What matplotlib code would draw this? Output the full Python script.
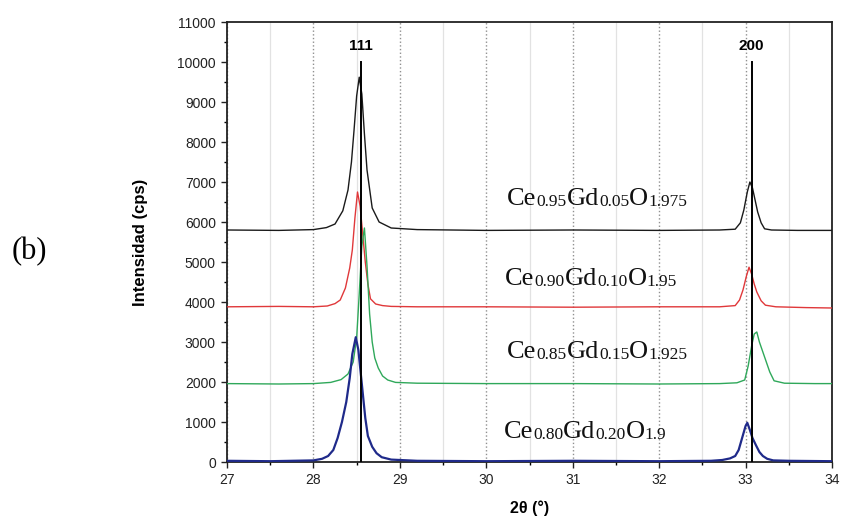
import matplotlib
matplotlib.use("Agg")
import matplotlib.pyplot as plt
from matplotlib.ticker import MultipleLocator
from matplotlib.transforms import offset_copy

# ---- diffraction patterns (2-theta in degrees, intensity in cps) ----
tt_005 = [27.0, 27.6, 28.0, 28.15, 28.25, 28.34, 28.40, 28.44, 28.47, 28.50, 28.53,
          28.56, 28.59, 28.62, 28.68, 28.76, 28.9, 29.2, 30.0, 31.0, 32.0, 32.7,
          32.88, 32.94, 32.98, 33.02, 33.05, 33.08, 33.11, 33.14, 33.18, 33.22,
          33.3, 33.6, 34.0]
int_005 = [5800, 5790, 5810, 5860, 5950, 6280, 6800, 7500, 8300, 9150, 9620,
           9200, 8200, 7300, 6350, 6000, 5850, 5810, 5790, 5800, 5790, 5800,
           5820, 5980, 6300, 6750, 7000, 6850, 6550, 6250, 5980, 5830,
           5800, 5790, 5790]

tt_010 = [27.0, 27.6, 28.0, 28.16, 28.25, 28.31, 28.37, 28.42, 28.45, 28.48, 28.51,
          28.54, 28.57, 28.60, 28.63, 28.66, 28.72, 28.8, 28.9, 29.2, 30.0, 31.0,
          32.0, 32.7, 32.88, 32.93, 32.97, 33.01, 33.04, 33.07, 33.10, 33.13,
          33.18, 33.23, 33.35, 33.7, 34.0]
int_010 = [3880, 3890, 3880, 3900, 3960, 4050, 4350, 4850, 5300, 6100, 6750,
           6400, 5700, 5000, 4450, 4080, 3950, 3910, 3890, 3880, 3880, 3870,
           3880, 3880, 3910, 4050, 4300, 4650, 4870, 4700, 4450, 4250,
           4030, 3920, 3880, 3860, 3850]

tt_015 = [27.0, 27.6, 28.0, 28.2, 28.32, 28.40, 28.46, 28.50, 28.53, 28.56, 28.59,
          28.62, 28.65, 28.68, 28.71, 28.75, 28.8, 28.86, 28.95, 29.2, 30.0, 31.0,
          32.0, 32.7, 32.9, 32.99, 33.03, 33.07, 33.10, 33.13, 33.16, 33.2,
          33.24, 33.28, 33.33, 33.45, 33.8, 34.0]
int_015 = [1960, 1950, 1960, 1990, 2060, 2200, 2500, 3100, 4200, 5400, 5850,
           4900, 3700, 3000, 2600, 2350, 2150, 2050, 1990, 1970, 1960, 1960,
           1950, 1960, 1980, 2050, 2400, 2900, 3200, 3250, 3000, 2750,
           2500, 2250, 2030, 1970, 1960, 1960]

tt_020 = [27.0, 27.5, 28.0, 28.1, 28.17, 28.23, 28.28, 28.33, 28.38, 28.42, 28.45,
          28.49, 28.52, 28.56, 28.60, 28.63, 28.68, 28.73, 28.79, 28.9, 29.2, 30.0,
          31.0, 32.0, 32.6, 32.73, 32.82, 32.88, 32.92, 32.96, 33.0, 33.02, 33.05,
          33.08, 33.12, 33.16, 33.2, 33.25, 33.32, 33.5, 34.0]
int_020 = [30, 20, 40, 80, 150, 300, 600, 1000, 1500, 2100, 2700,
           3120, 2800, 1950, 1100, 650, 380, 220, 120, 60, 30, 20,
           30, 20, 30, 50, 90, 150, 300, 600, 900, 980, 800,
           600, 420, 250, 150, 80, 40, 30, 20]

# reflections of the fluorite lattice
ref_positions = [28.55, 33.07]
ref_labels = ["111", "200"]
ref_top = 10000

# composition labels: (text, is_element) pieces plus anchor (2-theta, cps)
labels = [
    ([("Ce", True), ("0.95", False), ("Gd", True), ("0.05", False), ("O", True), ("1.975", False)], 30.24, 6425),
    ([("Ce", True), ("0.90", False), ("Gd", True), ("0.10", False), ("O", True), ("1.95", False)], 30.22, 4425),
    ([("Ce", True), ("0.85", False), ("Gd", True), ("0.15", False), ("O", True), ("1.925", False)], 30.24, 2600),
    ([("Ce", True), ("0.80", False), ("Gd", True), ("0.20", False), ("O", True), ("1.9", False)], 30.20, 600),
]

plt.rcParams["font.family"] = ["Liberation Sans", "DejaVu Sans"]

fig = plt.figure(figsize=(8.46, 5.27), dpi=100)
ax = fig.add_axes([227 / 846, 1 - 462 / 527, 605 / 846, 440 / 527])

ax.plot(tt_005, int_005, color="#1a1a1a", lw=1.0, zorder=3)
ax.plot(tt_010, int_010, color="#e0383a", lw=1.0, zorder=3)
ax.plot(tt_015, int_015, color="#2fa85a", lw=1.0, zorder=3)
ax.plot(tt_020, int_020, color="#1f2a8a", lw=1.6, zorder=3)

for pos, lab in zip(ref_positions, ref_labels):
    ax.plot([pos, pos], [0, ref_top], color="black", lw=1.4, zorder=5)
    ax.text(pos, ref_top + 400, lab, ha="center", va="center",
            fontsize=11, fontweight="bold", zorder=6)

ax.set_xlim(27, 34)
ax.set_ylim(0, 11000)
ax.xaxis.set_major_locator(MultipleLocator(1))
ax.xaxis.set_minor_locator(MultipleLocator(0.5))
ax.yaxis.set_major_locator(MultipleLocator(1000))
ax.yaxis.set_minor_locator(MultipleLocator(500))

ax.grid(which="major", axis="x", linestyle=":", color="#909090", lw=1.0, zorder=0)
ax.grid(which="minor", axis="x", linestyle="-", color="#e2e2e2", lw=0.9, zorder=0)

ax.tick_params(which="major", direction="out", length=4.5, width=1.0, pad=3.5,
               labelsize=10, colors="#222222")
ax.tick_params(which="minor", direction="out", length=2.5, width=1.0)
for sp in ax.spines.values():
    sp.set_linewidth(1.3)
    sp.set_color("#222222")

ax.set_xlabel("2θ (°)", fontsize=11.5, fontweight="bold")
ax.set_ylabel("Intensidad (cps)", fontsize=12, fontweight="bold")
ax.xaxis.set_label_coords(0.5, -0.088)
ax.yaxis.set_label_coords(-0.131, 0.5)

# chemical formulas: element symbols large, stoichiometry small, same baseline
serif = ["Liberation Serif", "DejaVu Serif"]
renderer = fig.canvas.get_renderer()
for parts, x0, y0 in labels:
    shift = 0.0
    for s, big in parts:
        tr = offset_copy(ax.transData, fig=fig, x=shift, y=(0 if big else -0.8),
                         units="dots")
        t = ax.text(x0, y0, s, transform=tr, fontsize=19 if big else 12.5,
                    family=serif, va="baseline", ha="left",
                    color="#111111", zorder=4)
        shift += t.get_window_extent(renderer=renderer).width

fig.text(12 / 846, 1 - 252 / 527, "(b)", fontsize=22, family=serif,
         ha="left", va="center")

fig.savefig("out.png", dpi=100)
